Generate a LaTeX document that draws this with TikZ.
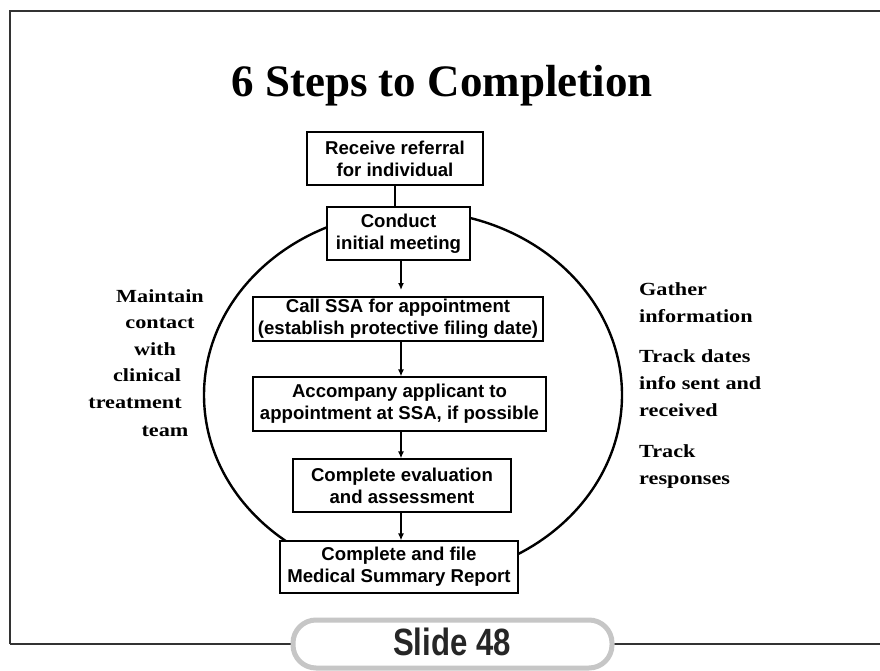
\documentclass[tikz,border=0pt]{standalone}
\usepackage{fontspec}
\setmainfont{Liberation Serif}
\newfontfamily\boxfont{Liberation Sans}
\newfontfamily\sidefont[FakeStretch=1.2]{Liberation Serif}
\newfontfamily\pillfont[FakeStretch=0.82]{Liberation Sans}
\usetikzlibrary{arrows.meta}
\definecolor{framegray}{HTML}{333333}
\definecolor{pillgray}{HTML}{C6C6C6}
\tikzset{
  stepbox/.style={draw=black, line width=1.2pt, fill=white, inner sep=0pt,
    align=center, font=\boxfont\bfseries\fontsize{18.6}{22}\selectfont},
  flow/.style={line width=1.3pt, -{Latex[length=7pt,width=6pt]}},
  link/.style={line width=1.3pt},
  sidetext/.style={inner sep=0pt, font=\sidefont\bfseries\fontsize{18.5}{22}\selectfont},
}
\begin{document}
\begin{tikzpicture}[x=1pt, y=-1pt]
\useasboundingbox (0,0) rectangle (880,671);
\fill[white] (0,0) rectangle (880,671);

% slide frame
\draw[framegray, line width=2.5pt] (10,644) -- (10,11) -- (881,11);
\draw[framegray, line width=2.5pt] (10,644) -- (295,644);
\draw[framegray, line width=2.5pt] (610,644) -- (881,644);

% slide number tab
\draw[pillgray, line width=5pt, fill=white, rounded corners=23pt]
  (293,620) rectangle (612,668);
\node[font=\pillfont\bfseries\fontsize{38}{40}\selectfont, text=black!85] (slidenum)
  at (452,642) {Slide 48};

% title
\node[anchor=base, font=\bfseries\fontsize{45}{50}\selectfont] (title)
  at (442,97) {6 Steps to Completion};

% surrounding cycle
\draw[line width=2.4pt] (413,395) ellipse [x radius=209pt, y radius=184pt];

% process steps
\node[stepbox, minimum width=176pt, minimum height=53pt] (s1) at (395,158.5)
  {Receive referral\\for individual};
\node[stepbox, minimum width=143pt, minimum height=53pt] (s2) at (398.5,233.5)
  {Conduct\\initial meeting};
\node[stepbox, minimum width=290pt, minimum height=44pt] (s3) at (398,319)
  {Call SSA for appointment\\(establish protective filing date)};
\node[stepbox, minimum width=293pt, minimum height=54pt] (s4) at (399.5,404)
  {Accompany applicant to\\appointment at SSA, if possible};
\node[stepbox, minimum width=218pt, minimum height=53pt] (s5) at (402,485.5)
  {Complete evaluation\\and assessment};
\node[stepbox, minimum width=238pt, minimum height=52pt] (s6) at (399,567)
  {Complete and file\\Medical Summary Report};

% connectors
\coordinate (ax) at (401,0);
\coordinate (lx) at (395,0);
\coordinate (gap) at (401,290);
\draw[link] (s1.south -| lx) -- (s2.north -| lx);
\draw[flow] (s2.south -| ax) -- (gap);
\draw[flow] (s3.south -| ax) -- (s4.north -| ax);
\draw[flow] (s4.south -| ax) -- (s5.north -| ax);
\draw[flow] (s5.south -| ax) -- (s6.north -| ax);

% left side notes
\node[sidetext, anchor=base] (m1) at (160,302) {Maintain};
\node[sidetext, anchor=base] (m2) at (160,328) {contact};
\node[sidetext, anchor=base] (m3) at (155,355) {with};
\node[sidetext, anchor=base] (m4) at (147,381) {clinical};
\node[sidetext, anchor=base] (m5) at (135,408) {treatment};
\node[sidetext, anchor=base] (m6) at (165,436) {team};

% right side notes
\node[sidetext, anchor=base west] (g1) at (639,295) {Gather};
\node[sidetext, anchor=base west] (g2) at (639,322) {information};
\node[sidetext, anchor=base west] (g3) at (639,362) {Track dates};
\node[sidetext, anchor=base west] (g4) at (639,389) {info sent and};
\node[sidetext, anchor=base west] (g5) at (639,416) {received};
\node[sidetext, anchor=base west] (g6) at (639,457) {Track};
\node[sidetext, anchor=base west] (g7) at (639,484) {responses};
\end{tikzpicture}
\end{document}
